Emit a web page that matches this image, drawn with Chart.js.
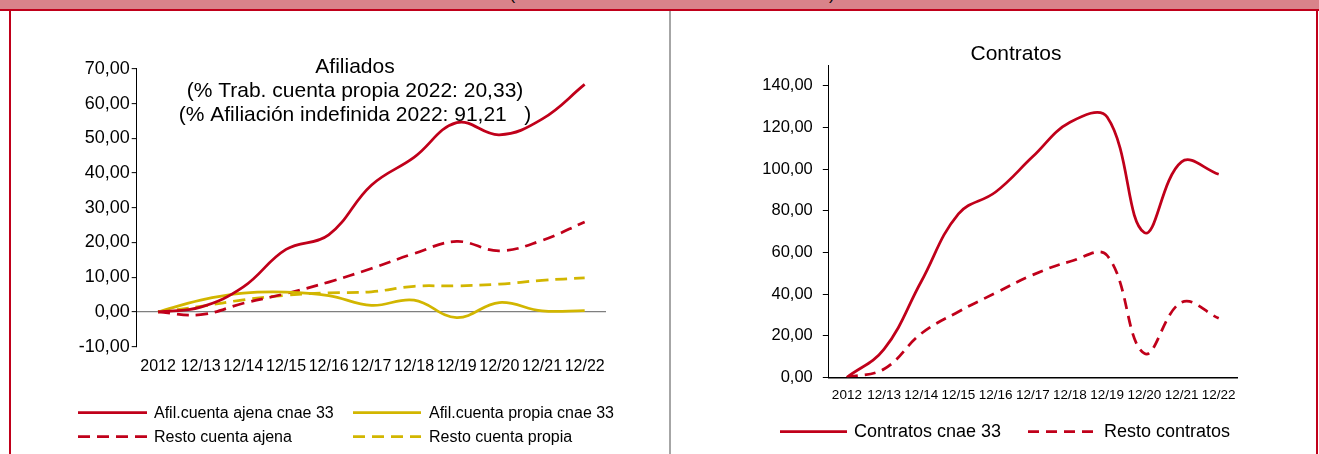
<!DOCTYPE html>
<html>
<head>
<meta charset="utf-8">
<script src="https://cdn.jsdelivr.net/npm/chart.js@4.4.1/dist/chart.umd.min.js"></script>
<style>
  html, body { margin: 0; padding: 0; background: #fff; }
  body { width: 1319px; height: 454px; position: relative; overflow: hidden; font-family: 'Liberation Sans', Arial, sans-serif; }
  .hdr { position: absolute; left: 0; top: 0; width: 1319px; height: 9px; background: #D9838A; overflow: hidden; }
  .hdr span { position: absolute; left: 0; width: 1344px; text-align: center; top: -14px; font-size: 17px; line-height: 17px; color: #000; white-space: nowrap; }
  .hline { position: absolute; left: 0; top: 9px; width: 1319px; height: 2px; background: #C0001A; }
  .lb { position: absolute; left: 9px; top: 9px; width: 2px; height: 445px; background: #C0001A; }
  .rb { position: absolute; left: 1316px; top: 9px; width: 2px; height: 445px; background: #C0001A; }
  .div { position: absolute; left: 669px; top: 11px; width: 2px; height: 443px; background: #A6A6A6; }
  canvas { position: absolute; }
  #c1 { left: 12px; top: 12px; }
  #c2 { left: 672px; top: 12px; }
</style>
</head>
<body>
<div class="hdr"><span>(Tasa de variación acumulada desde 2012)</span></div>
<div class="hline"></div>
<div class="lb"></div>
<div class="rb"></div>
<div class="div"></div>
<canvas id="c1" width="656" height="442"></canvas>
<canvas id="c2" width="642" height="442"></canvas>
<script>
// ---------- data ----------
const periods = ['2012', '12/13', '12/14', '12/15', '12/16', '12/17', '12/18', '12/19', '12/20', '12/21', '12/22'];
const afilAjenaCnae33 = [0, 1.4, 7.2, 18.0, 22.2, 36.5, 44.5, 54.5, 51.0, 55.5, 65.5];
const afilPropiaCnae33 = [0, 3.4, 5.4, 5.7, 4.7, 1.9, 3.4, -1.6, 2.7, 0.3, 0.4];
const restoAjena = [0, -0.8, 2.5, 5.3, 8.6, 12.5, 16.8, 20.3, 17.6, 20.6, 25.9];
const restoPropia = [0, 1.6, 3.5, 4.8, 5.5, 5.8, 7.4, 7.5, 8.0, 9.1, 9.8];
const contratosCnae33 = [0, 13.5, 46, 78.5, 89, 106, 122.5, 125, 69.5, 103.5, 97.5];
const restoContratos = [0, 4, 21, 31.5, 40.5, 49.2, 55.6, 58.5, 11.5, 36, 28.4];
const afilTitle = ['Afiliados', '(% Trab. cuenta propia 2022: 20,33)', '(% Afiliación indefinida 2022: 91,21   )'];
const contTitle = ['Contratos'];
const afilYTickValues = [-10, 0, 10, 20, 30, 40, 50, 60, 70];
const contYTickValues = [0, 20, 40, 60, 80, 100, 120, 140];
const afilYRange = { min: -10, max: 70 };
const contYRange = { min: 0, max: 150 };

const RED = '#C0001A';
const YEL = '#D2B600';
const FONT = "'Liberation Sans', Arial, sans-serif";
Chart.defaults.font.family = FONT;
Chart.defaults.color = '#000';

const fmt = v => Number(v).toFixed(2).replace('.', ',');

// text + legend plugin (coordinates in canvas px)
const overlay = {
  id: 'overlay',
  beforeDatasetsDraw(chart, args, opts) {
    const ctx = chart.ctx;
    ctx.save();
    ctx.fillStyle = '#000';
    ctx.textAlign = 'center';
    ctx.textBaseline = 'middle';
    ctx.font = opts.titleFont;
    opts.title.forEach((t, i) => ctx.fillText(t, opts.titleX, opts.titleY[i]));
    ctx.restore();
  },
  afterDraw(chart, args, opts) {
    const ctx = chart.ctx;
    ctx.save();
    opts.legend.forEach(it => {
      const ds = chart.data.datasets[it.ds];
      ctx.beginPath();
      ctx.strokeStyle = ds.borderColor;
      ctx.lineWidth = ds.borderWidth;
      ctx.setLineDash(ds.borderDash || []);
      ctx.moveTo(it.x0, it.y);
      ctx.lineTo(it.x1, it.y);
      ctx.stroke();
      ctx.setLineDash([]);
      ctx.fillStyle = '#000';
      ctx.font = opts.legendFont;
      ctx.textAlign = 'left';
      ctx.textBaseline = 'middle';
      ctx.fillText(ds.label, it.tx, it.y + 1);
    });
    ctx.restore();
  }
};

// ---------- left chart ----------
const O1 = { x: 12, y: 12 };
new Chart(document.getElementById('c1'), {
  type: 'line',
  data: {
    labels: periods,
    datasets: [
      { label: 'Afil.cuenta ajena cnae 33', data: afilAjenaCnae33, borderColor: RED, borderWidth: 2.75 },
      { label: 'Afil.cuenta propia cnae 33', data: afilPropiaCnae33, borderColor: YEL, borderWidth: 2.75 },
      { label: 'Resto cuenta ajena', data: restoAjena, borderColor: RED, borderWidth: 2.75, borderDash: [12, 7] },
      { label: 'Resto cuenta propia', data: restoPropia, borderColor: YEL, borderWidth: 2.75, borderDash: [12, 7] }
    ]
  },
  options: {
    responsive: false, animation: false, devicePixelRatio: 1,
    elements: { point: { radius: 0, hoverRadius: 0 }, line: { tension: 0.4, fill: false } },
    layout: { padding: { left: 0, right: 62, top: 56.8, bottom: 67.3 } },
    plugins: {
      legend: { display: false }, tooltip: { enabled: false },
      overlay: {
        title: afilTitle, titleFont: '21px ' + FONT, titleX: 355 - O1.x, titleY: [67 - O1.y, 91.5 - O1.y, 115 - O1.y],
        legendFont: '16px ' + FONT,
        legend: [
          { ds: 0, x0: 78 - O1.x, x1: 147 - O1.x, tx: 154 - O1.x, y: 412.5 - O1.y },
          { ds: 1, x0: 353 - O1.x, x1: 421 - O1.x, tx: 429 - O1.x, y: 412.5 - O1.y },
          { ds: 2, x0: 78 - O1.x, x1: 147 - O1.x, tx: 154 - O1.x, y: 436.5 - O1.y },
          { ds: 3, x0: 353 - O1.x, x1: 421 - O1.x, tx: 429 - O1.x, y: 436.5 - O1.y }
        ]
      }
    },
    scales: {
      x: {
        offset: true,
        grid: { display: false, drawTicks: false },
        border: { display: false },
        ticks: { autoSkip: false, maxRotation: 0, minRotation: 0, padding: 10, font: { size: 16 }, color: '#000' },
        afterFit(s) { s.height = 40; }
      },
      y: {
        min: afilYRange.min, max: afilYRange.max,
        afterBuildTicks(s) { s.ticks = afilYTickValues.map(v => ({ value: v })); },
        ticks: { padding: 2, font: { size: 18 }, color: '#000', callback: fmt },
        grid: {
          drawOnChartArea: true, drawTicks: true, tickLength: 5, tickColor: '#000', tickWidth: 1,
          color: c => (c.tick && c.tick.value === 0) ? '#7f7f7f' : 'rgba(0,0,0,0)', lineWidth: 1.25
        },
        border: { display: true, color: '#000', width: 1 },
        afterFit(s) { s.width = 124.7; }
      }
    }
  },
  plugins: [overlay]
});

// ---------- right chart ----------
const O2 = { x: 672, y: 12 };
new Chart(document.getElementById('c2'), {
  type: 'line',
  data: {
    labels: periods,
    datasets: [
      { label: 'Contratos cnae 33', data: contratosCnae33, borderColor: RED, borderWidth: 2.75 },
      { label: 'Resto contratos', data: restoContratos, borderColor: RED, borderWidth: 2.75, borderDash: [11, 7] }
    ]
  },
  options: {
    responsive: false, animation: false, devicePixelRatio: 1,
    elements: { point: { radius: 0, hoverRadius: 0 }, line: { tension: 0.4, fill: false } },
    layout: { padding: { left: 0, right: 76.7, top: 53, bottom: 36.7 } },
    plugins: {
      legend: { display: false }, tooltip: { enabled: false },
      overlay: {
        title: contTitle, titleFont: '21px ' + FONT, titleX: 1016 - O2.x, titleY: [54 - O2.y],
        legendFont: '18px ' + FONT,
        legend: [
          { ds: 0, x0: 780 - O2.x, x1: 847 - O2.x, tx: 854 - O2.x, y: 431.5 - O2.y },
          { ds: 1, x0: 1028 - O2.x, x1: 1095 - O2.x, tx: 1104 - O2.x, y: 431.5 - O2.y }
        ]
      }
    },
    scales: {
      x: {
        offset: true,
        grid: { display: false, drawTicks: false },
        border: { display: true, color: '#000', width: 1.5 },
        ticks: { autoSkip: false, maxRotation: 0, minRotation: 0, padding: 10, font: { size: 13.5 }, color: '#000' },
        afterFit(s) { s.height = 40; }
      },
      y: {
        min: contYRange.min, max: contYRange.max,
        afterBuildTicks(s) { s.ticks = contYTickValues.map(v => ({ value: v })); },
        ticks: { padding: 10, font: { size: 16.5 }, color: '#000', callback: fmt },
        grid: { drawOnChartArea: false, drawTicks: true, tickLength: 5.5, tickColor: '#000', tickWidth: 1 },
        border: { display: true, color: '#000', width: 1 },
        afterFit(s) { s.width = 156.3; }
      }
    }
  },
  plugins: [overlay]
});
</script>
</body>
</html>
